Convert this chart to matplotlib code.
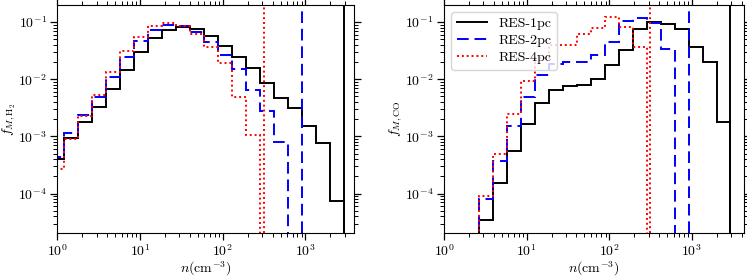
import numpy as np
import matplotlib
matplotlib.use("Agg")
import matplotlib.pyplot as plt
from matplotlib.lines import Line2D

plt.rcParams['font.family'] = 'serif'
plt.rcParams['font.serif'] = ['cmr10', 'DejaVu Serif']
plt.rcParams['mathtext.fontset'] = 'cm'
plt.rcParams['axes.formatter.use_mathtext'] = True

# density bin edges (cm^-3)
edges = [0.823, 1.215, 1.794, 2.647, 3.907, 5.768, 8.513, 12.57, 18.55, 27.38,
         40.41, 59.65, 88.05, 130.0, 191.8, 283.1, 418.0, 616.9, 910.7, 1344.0,
         1984.0, 2929.0]

labels = ['RES-1pc', 'RES-2pc', 'RES-4pc']
colors = ['k', 'b', 'r']
styles = ['-', (0, (6, 3)), (0, (1, 1.5))]
nmax = [2929.0, 910.7, 312.0]

# H2 mass fraction per bin (left panel); starts at edges[0]
h2_1pc = [4.0e-4, 9.5e-4, 1.79e-3, 3.2e-3, 6.65e-3, 1.45e-2, 3.03e-2, 5.2e-2,
          7.2e-2, 8.3e-2, 7.5e-2, 5.8e-2, 3.85e-2, 2.4e-2, 1.57e-2, 8.7e-3,
          4.75e-3, 3.14e-3, 1.52e-3, 7.8e-4, 7.4e-5]
h2_2pc = [4.4e-4, 1.16e-3, 2.33e-3, 4.8e-3, 1.09e-2, 2.4e-2, 4.7e-2, 7.3e-2,
          9.0e-2, 8.5e-2, 6.6e-2, 4.4e-2, 2.6e-2, 1.49e-2, 6.5e-3, 2.8e-3,
          8.1e-4]
h2_4pc = [2.65e-4, 8.9e-4, 2.28e-3, 5.3e-3, 1.36e-2, 3.15e-2, 5.55e-2, 8.4e-2,
          9.6e-2, 8.5e-2, 6.1e-2, 3.65e-2, 1.95e-2, 4.8e-3, 1.06e-3]

# CO mass fraction per bin (right panel); starts at edges[3]
co_start = 3
co_1pc = [3.45e-5, 1.51e-4, 5.5e-4, 1.67e-3, 3.84e-3, 6.4e-3, 7.7e-3, 7.9e-3,
          9.95e-3, 1.75e-2, 3.2e-2, 7.6e-2, 0.101, 9.2e-2, 7.45e-2, 3.7e-2,
          1.97e-2, 1.81e-3]
co_2pc = [7.9e-5, 3.7e-4, 1.5e-3, 4.95e-3, 1.18e-2, 1.85e-2, 1.97e-2, 2.03e-2,
          2.6e-2, 4.5e-2, 0.106, 0.118, 9.5e-2, 3.42e-2]
co_4pc = [9.1e-5, 4.9e-4, 2.47e-3, 9.3e-3, 2.3e-2, 3.96e-2, 3.96e-2, 6.1e-2,
          7.96e-2, 0.121, 8.3e-2, 3.6e-2]

fig = plt.figure(figsize=(7.47, 2.79), dpi=100)
axL = fig.add_axes([0.0767, 0.1649, 0.3976, 0.8172])
axR = fig.add_axes([0.5944, 0.1649, 0.4016, 0.8172])

def draw(ax, series, start):
    for vals, c, ls, lab, nm in zip(series, colors, styles, labels, nmax):
        e = edges[start:start + len(vals) + 1]
        ax.stairs(vals, e, baseline=1e-12, color=c, linestyle=ls, lw=1.4,
                  label=lab)
        ax.axvline(nm, color=c, linestyle=ls, lw=1.4)
    ax.set_xscale('log')
    ax.set_yscale('log')
    ax.set_ylim(2.05e-5, 0.198)
    ax.tick_params(which='both', direction='out', top=True, right=True,
                   labelsize=10, pad=2.5)
    ax.tick_params(which='major', length=5, width=0.9)
    ax.tick_params(which='minor', length=3, width=0.7)
    ax.set_xlabel(r'$n(\mathrm{cm^{-3}})$', fontsize=10, labelpad=0)

draw(axL, [h2_1pc, h2_2pc, h2_4pc], 0)
axL.set_xlim(1, 3900)
axL.set_ylabel(r'$f_{M,\mathrm{H_2}}$', fontsize=10)
axL.yaxis.set_label_coords(-0.135, 0.5)

draw(axR, [co_1pc, co_2pc, co_4pc], co_start)
axR.set_xlim(1, 4270)
axR.set_ylabel(r'$f_{M,\mathrm{CO}}$', fontsize=10)
axR.yaxis.set_label_coords(-0.135, 0.5)
hl = [Line2D([], [], color=c, linestyle=ls, lw=1.4) for c, ls in zip(colors, styles)]
axR.legend(hl, labels, loc='upper left', fontsize=10, handlelength=2.2,
           labelspacing=0.3, borderpad=0.4)

fig.savefig('out.png', dpi=100)
